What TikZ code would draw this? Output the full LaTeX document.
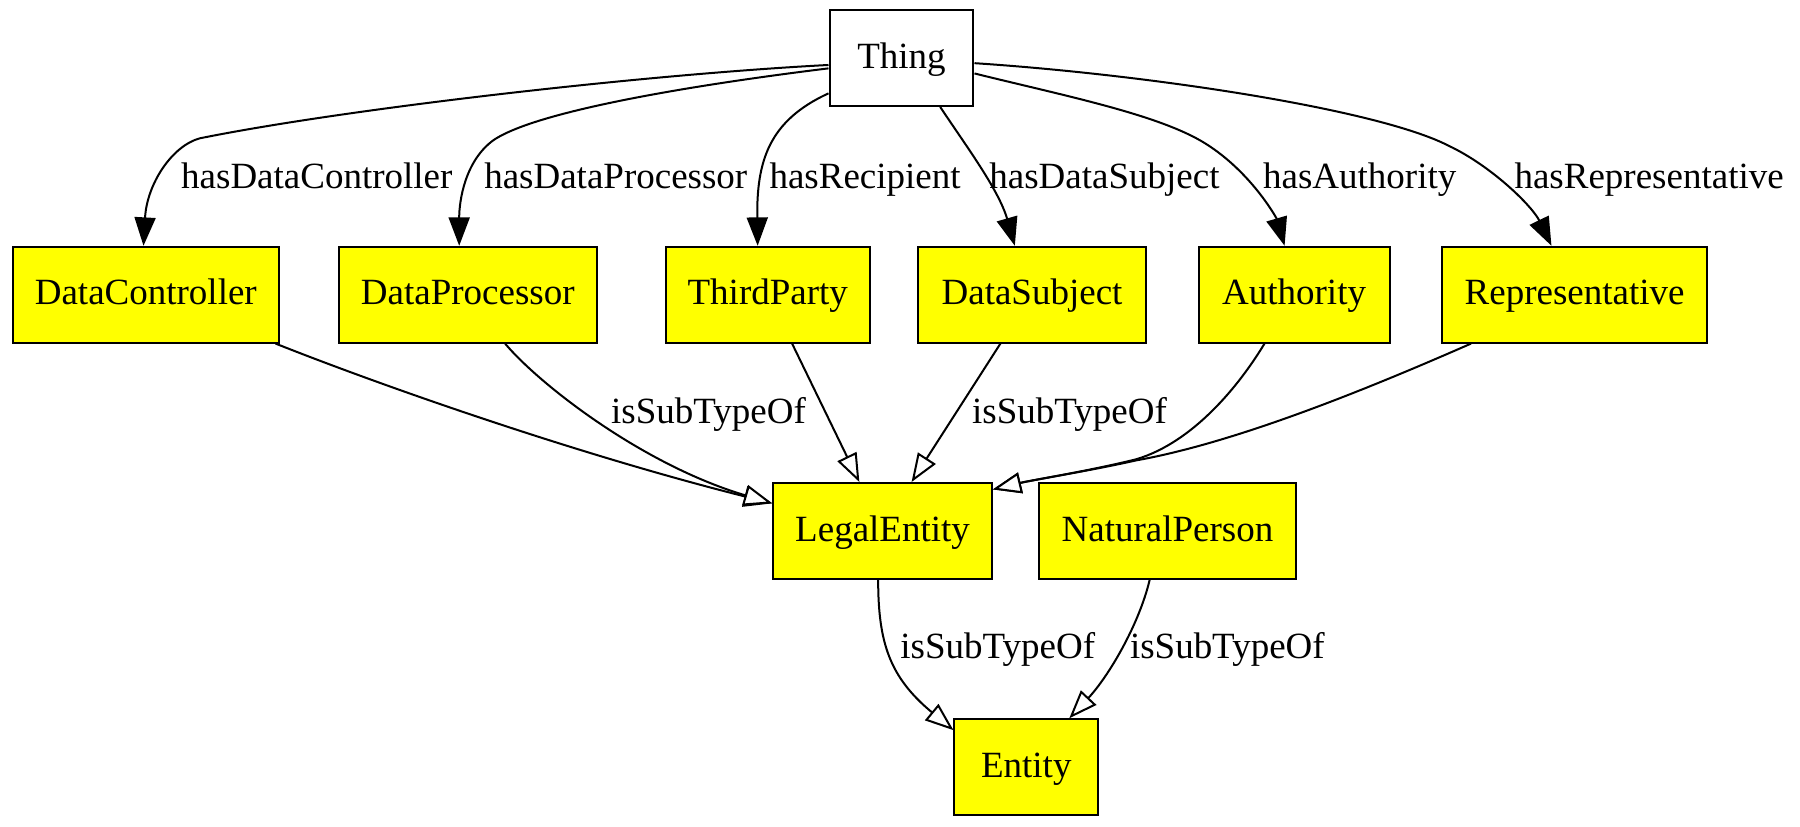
\documentclass[tikz,border=0pt]{standalone}
\usepackage{fontspec}
\setmainfont{Liberation Serif}
\usetikzlibrary{arrows.meta}
\definecolor{gvyellow}{RGB}{255,255,0}
\begin{document}
\begin{tikzpicture}[x=0.574pt, y=-0.574pt,
  box/.style={draw=black, line width=1pt, fill=gvyellow, inner sep=0pt,
    minimum height=47.9pt, text height=14.3pt, text depth=4pt,
    font=\fontsize{18.5}{22}\selectfont},
  thingbox/.style={box, fill=white},
  lbl/.style={inner sep=0pt, anchor=base west, font=\fontsize{18.5}{22}\selectfont},
  rel/.style={line width=1pt, -{Triangle[length=14.2pt,width=10.5pt]}},
  sub/.style={line width=1pt, -{Triangle[length=14.2pt,width=10.5pt,fill=white]}}]
\useasboundingbox (0,0) rectangle (1568,720);

% nodes
\node[thingbox, minimum width=72pt] (Thing) at (785.3,50.5) {Thing};
\node[box, minimum width=133.2pt] (DC) at (127,256.7) {DataController};
\node[box, minimum width=129.2pt] (DP) at (407.5,256.7) {DataProcessor};
\node[box, minimum width=101.9pt] (TP) at (668.8,256.7) {ThirdParty};
\node[box, minimum width=113.7pt] (DS) at (899,256.7) {DataSubject};
\node[box, minimum width=95.6pt] (Auth) at (1127.3,256.7) {Authority};
\node[box, minimum width=132.3pt] (Rep) at (1371.7,256.7) {Representative};
\node[box, minimum width=109.3pt] (LE) at (768.8,462.5) {LegalEntity};
\node[box, minimum width=128.6pt] (NP) at (1017,462.5) {NaturalPerson};
\node[box, minimum width=71.8pt] (Ent) at (894,668.3) {Entity};

% Thing relations
\draw[rel] ([yshift=-3.5pt]Thing.west) .. controls (560,65) and (300,95) .. (174,120.5)
  .. controls (150,127) and (128,160) .. ([xshift=-1.15pt]DC.north);
\draw[rel] ([yshift=-5.2pt]Thing.west) .. controls (620,72) and (470,95) .. (430,122)
  .. controls (405,140) and (400,175) .. ([xshift=-4.3pt]DP.north);
\draw[rel] ([yshift=-17.7pt]Thing.west) .. controls (670,105) and (659,140) .. ([xshift=-5.05pt]TP.north);
\draw[rel] ([xshift=19.35pt]Thing.south) .. controls (840,125) and (870,165) .. ([xshift=-8.6pt]DS.north);
\draw[rel] ([yshift=-7.75pt]Thing.east) .. controls (930,84) and (1010,100) .. (1050,125)
  .. controls (1090,150) and (1112,190) .. ([xshift=-4.76pt]Auth.north);
\draw[rel] ([yshift=-2.6pt]Thing.east) .. controls (1000,65) and (1200,95) .. (1262,127)
  .. controls (1300,145) and (1335,180) .. ([xshift=-11.6pt]Rep.north);

% subtype relations
\draw[sub] ([xshift=64.9pt]DC.south) .. controls (330,335) and (500,395) .. ([yshift=13.8pt]LE.west);
\draw[sub] ([xshift=18.65pt]DP.south) .. controls (470,335) and (560,405) .. ([yshift=13.8pt]LE.west);
\draw[sub] ([xshift=12.17pt]TP.south) -- ([xshift=-11.6pt]LE.north);
\draw[sub] ([xshift=-15.8pt]DS.south) -- ([xshift=14.5pt]LE.north);
\draw[sub] ([xshift=-14.8pt]Auth.south) .. controls (1080,335) and (1040,385) .. (990,400)
  .. controls (950,410) and (900,418) .. ([yshift=-3.7pt]LE.north east);
\draw[sub] ([xshift=-51.8pt]Rep.south) .. controls (1200,335) and (1080,385) .. (990,401)
  .. controls (950,410) and (900,418) .. ([yshift=-3.7pt]LE.north east);
\draw[sub] ([xshift=-2.2pt]LE.south) .. controls (765,560) and (775,590) .. ([yshift=18.5pt]Ent.west);
\draw[sub] ([xshift=-8.9pt]NP.south) .. controls (992,545) and (965,590) .. ([xshift=21.5pt]Ent.north);

% labels
\node[lbl] (l1) at (157.5,164) {hasDataController};
\node[lbl] (l2) at (421.5,164) {hasDataProcessor};
\node[lbl] (l3) at (670,164) {hasRecipient};
\node[lbl] (l4) at (861.5,164) {hasDataSubject};
\node[lbl] (l5) at (1100,164) {hasAuthority};
\node[lbl] (l6) at (1319,164) {hasRepresentative};
\node[lbl] (l7) at (532,369) {isSubTypeOf};
\node[lbl] (l8) at (846.5,369) {isSubTypeOf};
\node[lbl] (l9) at (784,573.5) {isSubTypeOf};
\node[lbl] (l10) at (984,573.5) {isSubTypeOf};
\end{tikzpicture}
\end{document}
